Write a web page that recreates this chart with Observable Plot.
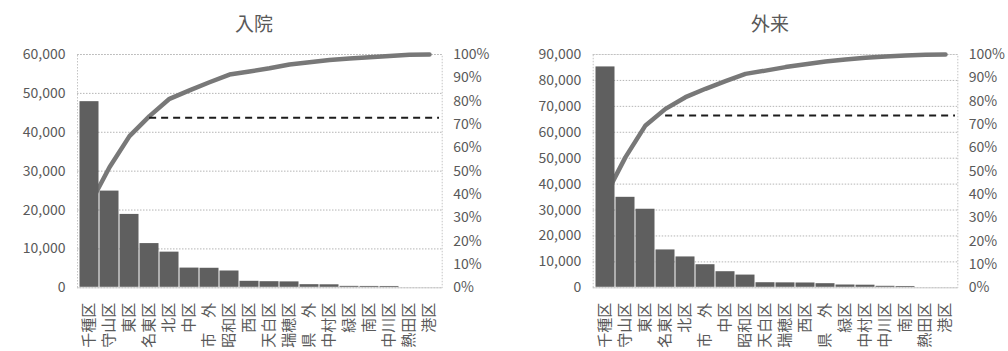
<!DOCTYPE html>
<html>
<head>
<meta charset="utf-8">
<script src="https://cdn.jsdelivr.net/npm/d3@7"></script>
<script src="https://cdn.jsdelivr.net/npm/@observablehq/plot@0.6"></script>
<style>
  html, body { margin: 0; padding: 0; background: #fff; }
  #page { position: relative; width: 1008px; height: 351px; overflow: hidden; background: #fff;
          font-family: "Noto Sans CJK JP", "Noto Sans", sans-serif; }
  .chart { position: absolute; top: 0; }
  .title { position: absolute; top: 10px; font-size: 19px; color: #595959; transform: translateX(-50%); white-space: nowrap; line-height: 26px; }
  .sep { position: absolute; border-left: 1px dotted #bdbdbd; }
  .topmark { position: absolute; top: 0; height: 0; border-top: 1px dotted #c8c8c8; }
</style>
</head>
<body>
<div id="page">
  <div class="sep" style="left:527px; top:0; height:351px;"></div>
  <div class="sep" style="left:499px; top:336px; height:15px;"></div>
  <div class="topmark" style="left:12px; width:26px;"></div>
  <div class="topmark" style="left:255px; width:38px;"></div>
  <div class="topmark" style="left:528px; width:16px;"></div>
  <div class="topmark" style="left:775px; width:32px;"></div>
  <div id="left" class="chart" style="left:0px;"></div>
  <div id="right" class="chart" style="left:515px;"></div>
  <div class="title" style="left:254px;">入院</div>
  <div class="title" style="left:770px;">外来</div>
</div>
<script>
// ---- 入院 (inpatient) ----
const inCategories = ["千種区","守山区","東区","名東区","北区","中区","市　外","昭和区","西区","天白区","瑞穂区","県　外","中村区","緑区","南区","中川区","熱田区","港区"];
const inValues = [48000, 25000, 19000, 11500, 9300, 5200, 5150, 4450, 1800, 1700, 1650, 930, 900, 500, 480, 470, 150, 100];
const inCumPct = [35.5, 51.7, 65.0, 73.6, 81.0, 84.6, 88.1, 91.4, 92.7, 94.1, 95.7, 96.7, 97.6, 98.3, 98.8, 99.4, 99.9, 100];
const inThresholdPct = 72.9;
const inYTicks = [0, 10000, 20000, 30000, 40000, 50000, 60000];

// ---- 外来 (outpatient) ----
const outCategories = ["千種区","守山区","東区","名東区","北区","市　外","中区","昭和区","天白区","瑞穂区","西区","県　外","緑区","中村区","中川区","南区","熱田区","港区"];
const outValues = [85400, 35100, 30500, 14800, 12100, 9100, 6400, 5100, 2150, 2100, 2050, 1780, 1270, 1200, 770, 700, 100, 50];
const outCumPct = [39.5, 56.0, 69.6, 76.7, 81.7, 85.3, 88.6, 91.7, 93.1, 94.6, 95.8, 97.0, 97.9, 98.6, 99.1, 99.6, 99.9, 100];
const outThresholdPct = 73.8;
const outYTicks = [0, 10000, 20000, 30000, 40000, 50000, 60000, 70000, 80000, 90000];

const pctTicks = [0, 10, 20, 30, 40, 50, 60, 70, 80, 90, 100];
const thresholdStart = "名東区";

function pareto({categories, values, cumPct, thresholdPct, yTicks, width, marginLeft, marginRight}) {
  const ymax = yTicks[yTicks.length - 1];
  const rows = categories.map((c, i) => ({cat: c, value: values[i], cum: cumPct[i]}));
  const marginTop = 54, marginBottom = 63.7, height = 351;
  const bandwidth = (width - marginLeft - marginRight) / categories.length;
  return Plot.plot({
    width, height, marginLeft, marginRight, marginTop, marginBottom,
    style: {fontFamily: "'Noto Sans CJK JP', 'Noto Sans', sans-serif", fontSize: "14px", color: "#595959", background: "white"},
    x: {domain: categories, padding: 0, label: null},
    y: {domain: [0, ymax], label: null},
    marks: [
      Plot.gridY(yTicks, {stroke: "#b5b5b5", strokeOpacity: 1, strokeDasharray: "1.5,1.5"}),
      Plot.frame({stroke: "#c4c4c4", strokeDasharray: "1.5,1.5"}),
      Plot.lineY(rows, {x: "cat", y: d => d.cum * ymax / 100, stroke: "#787878", strokeWidth: 4.5, strokeLinejoin: "round", strokeLinecap: "round"}),
      Plot.barY(rows, {x: "cat", y: "value", fill: "#5f5f5f", inset: 0.5}),
      Plot.ruleY([thresholdPct], {y: d => d * ymax / 100, x1: () => thresholdStart, x2: () => categories[categories.length - 1],
        insetLeft: bandwidth / 2, stroke: "#1c1c1c", strokeWidth: 2, strokeDasharray: "7,5"}),
      Plot.axisY({ticks: yTicks, tickSize: 0, tickPadding: 12, tickFormat: d3.format(","), label: null, fontSize: 14}),
      Plot.axisY({anchor: "right", ticks: pctTicks.map(p => p * ymax / 100), tickFormat: d => Math.round(d / ymax * 100) + "%",
        tickSize: 0, tickPadding: 11, label: null, fontSize: 14}),
      Plot.axisX({tickRotate: -90, tickSize: 0, tickPadding: 15, label: null, fontSize: 15})
    ]
  });
}

document.getElementById("left").append(pareto({
  categories: inCategories, values: inValues, cumPct: inCumPct, thresholdPct: inThresholdPct, yTicks: inYTicks,
  width: 500, marginLeft: 77, marginRight: 58.3
}));
document.getElementById("right").append(pareto({
  categories: outCategories, values: outValues, cumPct: outCumPct, thresholdPct: outThresholdPct, yTicks: outYTicks,
  width: 493, marginLeft: 77.7, marginRight: 50.7
}));
</script>
</body>
</html>
